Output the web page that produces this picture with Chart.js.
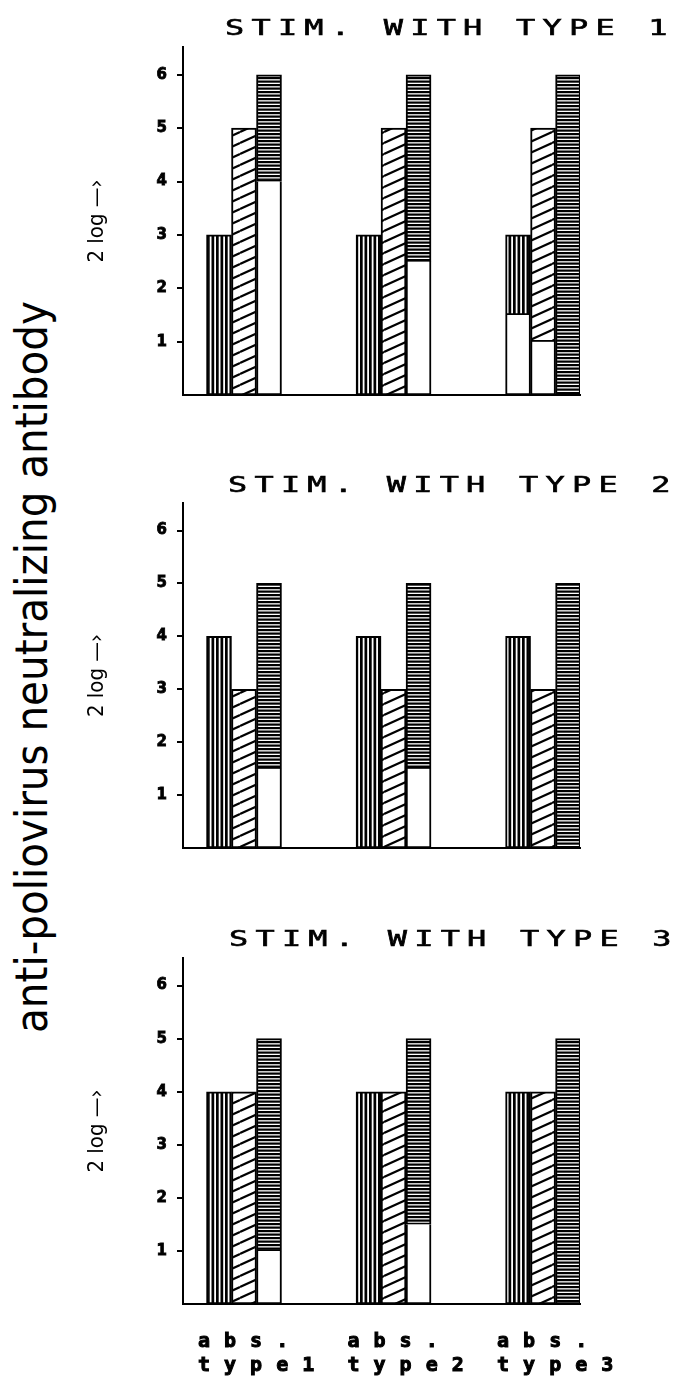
<!DOCTYPE html>
<html>
<head>
<meta charset="utf-8">
<script src="https://cdn.jsdelivr.net/npm/chart.js@4.4.1/dist/chart.umd.min.js"></script>
<style>
  body { margin: 0; background: #fff; }
  #page { position: relative; width: 679px; height: 1378px; overflow: hidden; }
  #page canvas { position: absolute; left: 0; }
  #bigLabel {
    position: absolute; left: 31px; top: 667px;
    transform: translate(-50%, -50%) rotate(-90deg);
    white-space: nowrap; line-height: 1; color: #000;
    font-family: "DejaVu Sans Condensed", "Liberation Sans Narrow", "DejaVu Sans", sans-serif;
    font-stretch: condensed; font-size: 45px;
  }
</style>
</head>
<body>
<div id="page">
  <div id="bigLabel">anti-poliovirus neutralizing antibody</div>
  <canvas id="panel1" width="679" height="440" style="top:0"></canvas>
  <canvas id="panel2" width="679" height="440" style="top:440px"></canvas>
  <canvas id="panel3" width="679" height="498" style="top:880px"></canvas>
</div>
<script>
const groups = [['abs.', 'type1'], ['abs.', 'type2'], ['abs.', 'type3']];
const titles = ['STIM. WITH TYPE 1', 'STIM. WITH TYPE 2', 'STIM. WITH TYPE 3'];
const yTicks = [1, 2, 3, 4, 5, 6];
const yTitle = '2 log \u2014\u203a';

// titre bars (2log), full height; "open" is the unfilled lower part of a bar
const stim1Anti1 = [3, 3, 3];
const stim1Anti2 = [5, 5, 5];
const stim1Anti3 = [6, 6, 6];
const stim1Anti1Open = [0, 0, 1.5];
const stim1Anti2Open = [0, 0, 1];
const stim1Anti3Open = [4, 2.5, 0];

const stim2Anti1 = [4, 4, 4];
const stim2Anti2 = [3, 3, 3];
const stim2Anti3 = [5, 5, 5];
const stim2Anti1Open = [0, 0, 0];
const stim2Anti2Open = [0, 0, 0];
const stim2Anti3Open = [1.5, 1.5, 0];

const stim3Anti1 = [4, 4, 4];
const stim3Anti2 = [4, 4, 4];
const stim3Anti3 = [5, 5, 5];
const stim3Anti1Open = [0, 0, 0];
const stim3Anti2Open = [0, 0, 0];
const stim3Anti3Open = [1, 1.5, 0];

function makePattern(w, h, draw) {
  const c = document.createElement('canvas');
  c.width = w; c.height = h;
  const g = c.getContext('2d');
  g.fillStyle = '#fff';
  g.fillRect(0, 0, w, h);
  g.fillStyle = g.strokeStyle = '#000';
  draw(g, w, h);
  return g.createPattern(c, 'repeat');
}

const vertical = makePattern(9, 4, g => { g.fillRect(0, 0, 2.7, 4); g.fillRect(4.5, 0, 2.7, 4); });
const diagonal = makePattern(24, 11, (g, w, h) => {
  g.lineWidth = 2.2;
  for (const dy of [-h, 0, h]) {
    g.beginPath(); g.moveTo(0, h + dy); g.lineTo(w, dy); g.stroke();
  }
});
const horizontal = makePattern(4, 7, g => { g.fillRect(0, 0, 4, 2.2); g.fillRect(0, 3.5, 4, 2.2); });
const fills = [vertical, diagonal, horizontal];

// plotter style lettering: spaced x labels and the panel heading
const plotterText = {
  id: 'plotterText',
  afterDatasetsDraw(chart, args, opts) {
    chart.ctx.letterSpacing = opts.labelSpacing + 'px';
  },
  afterDraw(chart, args, opts) {
    const ctx = chart.ctx;
    ctx.letterSpacing = '0px';
    ctx.save();
    ctx.fillStyle = ctx.strokeStyle = '#000';
    ctx.lineWidth = 0.6;
    ctx.font = '22px "DejaVu Sans Mono"';
    ctx.textBaseline = 'alphabetic';
    ctx.translate(opts.left, opts.baseline);
    ctx.scale(1.45, 1);
    ctx.letterSpacing = opts.titleSpacing + 'px';
    ctx.fillText(opts.title, 0, 0);
    ctx.strokeText(opts.title, 0, 0);
    ctx.restore();
    ctx.letterSpacing = '0px';
  }
};

function makeChart(id, title, totals, opens, layout, bottom) {
  const datasets = [];
  totals.forEach((tot, s) => {
    datasets.push({
      stack: 's' + s,
      data: groups.map((g, i) => ({ x: i + 1, y: opens[s][i] || null })),
      backgroundColor: '#fff',
      borderWidth: { top: 0, left: 2, right: 2, bottom: 2 }
    });
    datasets.push({
      stack: 's' + s,
      data: groups.map((g, i) => ({ x: i + 1, y: tot[i] - opens[s][i] })),
      backgroundColor: fills[s],
      borderWidth: 2
    });
  });

  return new Chart(document.getElementById(id), {
    type: 'bar',
    data: { datasets },
    options: {
      responsive: false,
      animation: false,
      events: [],
      layout: { padding: { left: 0, right: 99, top: layout.top, bottom: layout.bottom } },
      datasets: {
        bar: { borderColor: '#000', borderSkipped: false, barThickness: 25, grouped: true }
      },
      scales: {
        x: {
          type: 'linear',
          offset: false,
          min: 0.592,
          max: 3.247,
          afterBuildTicks: scale => { scale.ticks = groups.map((g, i) => ({ value: i + 1 })); },
          afterFit: scale => { scale.height = bottom ? 74 : 0; },
          grid: { display: false },
          border: { color: '#000', width: 2 },
          ticks: {
            display: bottom,
            autoSkip: false,
            maxRotation: 0,
            align: 'start',
            labelOffset: -46,
            padding: 18,
            z: 1,
            color: '#000',
            textStrokeColor: '#000',
            textStrokeWidth: 1,
            font: { family: '"DejaVu Sans Mono"', size: 20, weight: 'bold', lineHeight: 1.2 },
            callback: (v, i) => groups[i]
          }
        },
        y: {
          min: 0,
          max: 6.52,
          afterBuildTicks: scale => { scale.ticks = yTicks.map(v => ({ value: v })); },
          afterFit: scale => { scale.width = 183; },
          grid: { drawOnChartArea: false, color: '#000', lineWidth: 2, tickLength: 6 },
          border: { color: '#000', width: 2 },
          ticks: {
            color: '#000',
            padding: 10,
            textStrokeColor: '#000',
            textStrokeWidth: 0.8,
            font: { family: '"DejaVu Sans"', size: 15, weight: 'bold' }
          },
          title: {
            display: true,
            text: yTitle,
            color: '#000',
            padding: { top: 84, bottom: 0 },
            font: { family: '"DejaVu Sans Condensed", "DejaVu Sans"', size: 22, lineHeight: 1.2 }
          }
        }
      },
      plugins: {
        legend: { display: false },
        tooltip: { enabled: false },
        plotterText: { title, left: layout.titleLeft, baseline: layout.titleBase, titleSpacing: 5, labelSpacing: 14 }
      }
    },
    plugins: [plotterText]
  });
}

makeChart('panel1', titles[0],
  [stim1Anti1, stim1Anti2, stim1Anti3],
  [stim1Anti1Open, stim1Anti2Open, stim1Anti3Open],
  { top: 47, bottom: 45, titleLeft: 225, titleBase: 35 }, false);
makeChart('panel2', titles[1],
  [stim2Anti1, stim2Anti2, stim2Anti3],
  [stim2Anti1Open, stim2Anti2Open, stim2Anti3Open],
  { top: 63, bottom: 32, titleLeft: 228, titleBase: 52 }, false);
makeChart('panel3', titles[2],
  [stim3Anti1, stim3Anti2, stim3Anti3],
  [stim3Anti1Open, stim3Anti2Open, stim3Anti3Open],
  { top: 78, bottom: 0, titleLeft: 229, titleBase: 66 }, true);
</script>
</body>
</html>
